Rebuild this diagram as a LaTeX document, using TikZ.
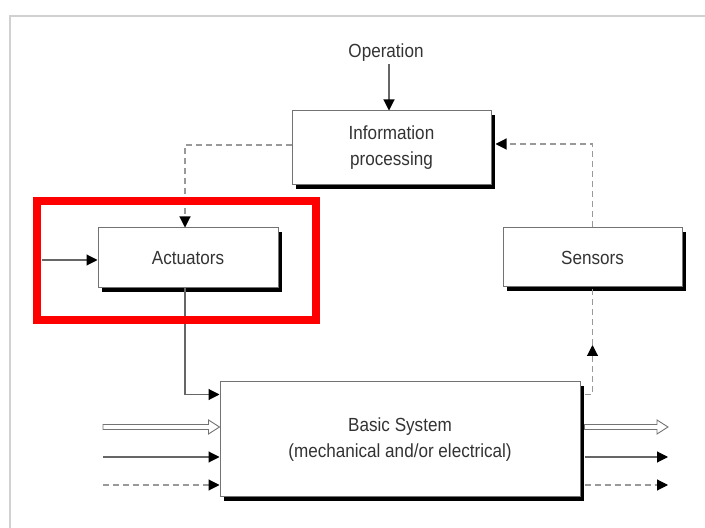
\documentclass[tikz,border=0pt]{standalone}
\usepackage{fontspec}
\setmainfont{Liberation Sans}[FakeStretch=0.9]
\usetikzlibrary{arrows.meta,shadows,calc}
\newcommand\dgfont{\fontsize{19}{26}\selectfont}
% hollow (outline) arrow from #1 to #2, horizontal
\newcommand\hollowarrow[2]{%
  \draw[black!55, line width=0.9pt, fill=white, line join=miter]
    ($(#1)+(0,2.5)$) -- ($(#2)+(-11,2.5)$) -- ($(#2)+(-11,7)$) -- (#2)
    -- ($(#2)+(-11,-7)$) -- ($(#2)+(-11,-2.5)$) -- ($(#1)+(0,-2.5)$) -- cycle;}
\begin{document}
\begin{tikzpicture}[x=1pt,y=1pt,
  blk/.style={draw=black!55, line width=1pt, fill=white,
    drop shadow={shadow xshift=4pt, shadow yshift=-4pt, fill=black, opacity=1},
    inner sep=0pt, align=center, font=\dgfont, text=black!80},
  lbl/.style={font=\dgfont, text=black!80, inner sep=2pt},
  ln/.style={draw=black!60, line width=1.1pt},
  dsh/.style={draw=black!40, line width=1.1pt, dash pattern=on 6pt off 4pt},
  tip/.style={-{Triangle[length=11pt,width=11pt,color=black]}},
]
\useasboundingbox (0,0) rectangle (705,528);
% page frame
\draw[black!18, line width=2.5pt] (10,0) -- (10,512) -- (705,512);

% blocks
\node[lbl] (op) at (386,475) {Operation};
\node[blk, minimum width=199pt, minimum height=74pt] (info) at (391.5,380) {Information\\processing};
\node[blk, minimum width=180pt, minimum height=60pt] (act) at (188,270) {Actuators};
\node[blk, minimum width=179pt, minimum height=59pt] (sen) at (592.5,270.5) {Sensors};
\node[blk, minimum width=360pt, minimum height=115pt] (sys) at (400,88.5) {Basic System\\(mechanical and/or electrical)};

% signal flow
\draw[ln,tip] ([xshift=3pt]op.south) -- ([xshift=3pt]op.south |- info.north);
\draw[dsh,tip] ([yshift=3pt]info.west) -| ([xshift=-3pt]act.north);
\coordinate (ain) at (42,268);
\draw[ln,tip] (ain) -- (act.west |- ain);
\draw[ln,tip] ([xshift=-3pt]act.south) |- ($(sys.north west)+(0,-13)$);
\draw[dsh,tip] (sen.north) |- ([xshift=4pt,yshift=4pt]info.east);
\coordinate (mid) at (sen.south |- 0,183);
\draw[dsh,tip] ($(sys.north east)+(4,-13)$) -| (mid);
\draw[dsh] (mid) -- (sen.south);

% inputs and outputs of the basic system
\coordinate (i1) at (103,101);
\coordinate (i2) at (103,71);
\coordinate (i3) at (103,43);
\coordinate (o1) at (668,101);
\coordinate (o2) at (668,71);
\coordinate (o3) at (668,43);
\hollowarrow{i1}{sys.west |- i1}
\draw[ln,tip] (i2) -- (sys.west |- i2);
\draw[dsh,tip] (i3) -- (sys.west |- i3);
\hollowarrow{$(sys.east |- o1)+(4,0)$}{o1}
\draw[ln,tip] ([xshift=4pt]sys.east |- o2) -- (o2);
\draw[dsh,tip] ([xshift=4pt]sys.east |- o3) -- (o3);

% highlight frame
\draw[red, line width=8pt] (37,208) rectangle (316,327);
\end{tikzpicture}
\end{document}
